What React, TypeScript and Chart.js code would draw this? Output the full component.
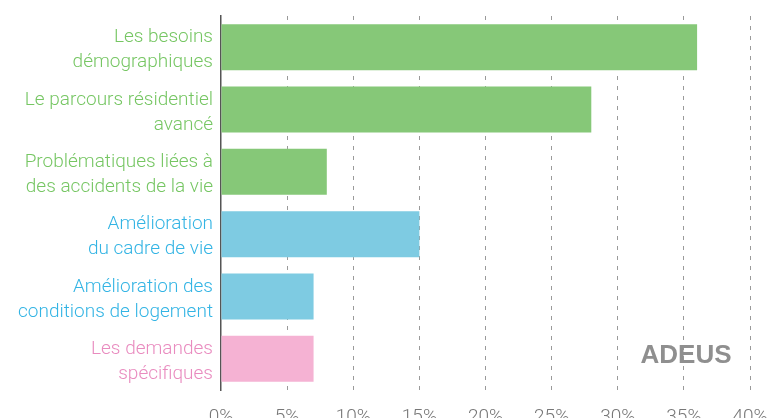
import React, { useEffect, useRef } from "react";
import { Chart, registerables } from "chart.js";

Chart.register(...registerables);

const categories: string[][] = [
  ["Les besoins", "démographiques"],
  ["Le parcours résidentiel", "avancé"],
  ["Problématiques liées à", "des accidents de la vie"],
  ["Amélioration", "du cadre de vie"],
  ["Amélioration des", "conditions de logement"],
  ["Les demandes", "spécifiques"],
];
const values: number[] = [36, 28, 8, 15, 7, 7];
const barColors: string[] = ["#86C878", "#86C878", "#86C878", "#7ECBE2", "#7ECBE2", "#F5B2D3"];
const labelColors: string[] = ["#76C663", "#76C663", "#76C663", "#33B4E4", "#33B4E4", "#E98BBF"];
const xTicks: number[] = [0, 5, 10, 15, 20, 25, 30, 35, 40];

const logoPlugin = {
  id: "logo",
  afterDraw(chart: any) {
    const ctx = chart.ctx;
    ctx.save();
    ctx.font = "bold 26px 'Liberation Sans', Arial, sans-serif";
    ctx.fillStyle = "#8f8f8f";
    ctx.textAlign = "center";
    ctx.textBaseline = "middle";
    ctx.fillText("ADEUS", 686, 356);
    ctx.restore();
  },
};

export default function App() {
  const ref = useRef<HTMLCanvasElement>(null);
  useEffect(() => {
    document.body.style.margin = "0";
    const chart = new Chart(ref.current!, {
      type: "bar",
      data: {
        labels: categories,
        datasets: [
          {
            data: values,
            backgroundColor: barColors,
            borderWidth: 0,
            barPercentage: 0.737,
            categoryPercentage: 1,
          },
        ],
      },
      options: {
        indexAxis: "y",
        responsive: false,
        animation: false,
        layout: { padding: { top: 16, right: 18, left: 0, bottom: 0 } },
        plugins: { legend: { display: false }, tooltip: { enabled: false } },
        scales: {
          x: {
            min: 0,
            max: 40,
            afterBuildTicks: (scale: any) => {
              scale.ticks = xTicks.map((v) => ({ value: v }));
            },
            afterFit: (scale: any) => {
              scale.height = 40;
              scale.paddingLeft = 0;
              scale.paddingRight = 0;
            },
            ticks: {
              callback: (v: any) => v + "%",
              color: "#777777",
              font: { family: "Roboto", size: 19, weight: "300" },
              padding: 16,
              maxRotation: 0,
            },
            grid: {
              color: (c: any) => (c.tick && c.tick.value === 0 ? "rgba(0,0,0,0)" : "#9a9a9a"),
              drawTicks: false,
              lineWidth: 1,
            },
            border: { display: false, dash: [4, 6] },
          },
          y: {
            afterFit: (scale: any) => {
              scale.width = 221;
              scale.paddingTop = 0;
              scale.paddingBottom = 0;
            },
            ticks: {
              color: (c: any) => labelColors[c.index],
              font: { family: "Roboto", size: 19, weight: "300", lineHeight: 1.32 },
              padding: 8,
              labelOffset: 3,
            },
            grid: { display: false, drawTicks: false },
            border: { display: true, color: "#555555", width: 1.5 },
          },
        },
      },
      plugins: [logoPlugin],
    } as any);
    return () => chart.destroy();
  }, []);
  return (
    <div style={{ position: "absolute", left: 0, top: 0, width: 768, height: 418, overflow: "hidden" }}>
      <canvas ref={ref} width={768} height={430} style={{ display: "block" }} />
    </div>
  );
}
